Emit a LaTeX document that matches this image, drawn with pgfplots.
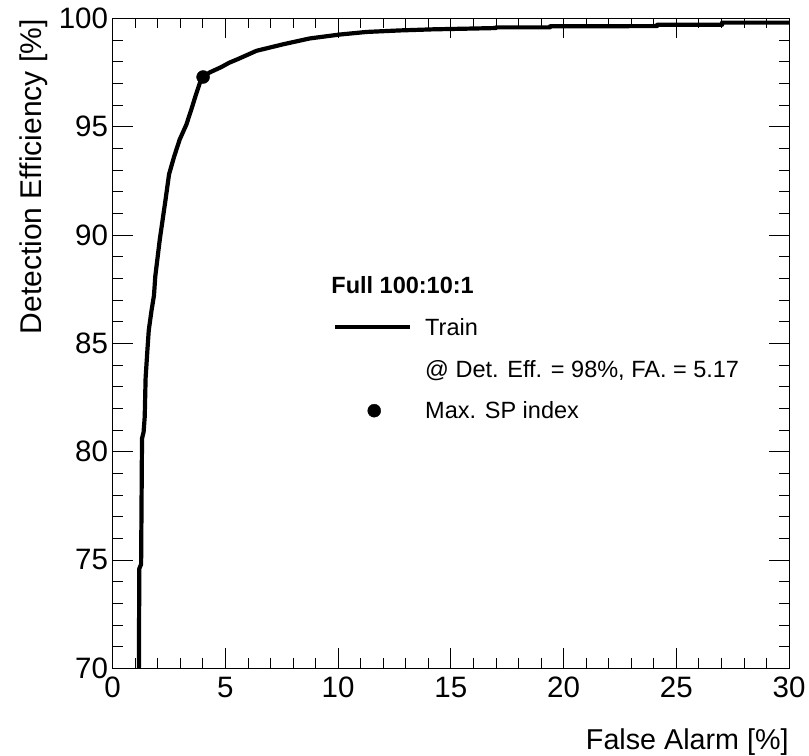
\documentclass[border=0pt]{standalone}
\usepackage{fontspec}
\setmainfont{Liberation Sans}
\usepackage{pgfplots}
\pgfplotsset{compat=1.18}
\newcommand\tickfont{\fontsize{29.5bp}{34bp}\selectfont}
\newcommand\xlabfont{\fontsize{28.7bp}{34bp}\selectfont}
\newcommand\ylabfont{\fontsize{30bp}{34bp}\selectfont}
\newcommand\legfont{\fontsize{23.5bp}{26bp}\selectfont}
\begin{document}
\begin{tikzpicture}
\useasboundingbox (0bp,0bp) rectangle (809bp,756bp);
\begin{axis}[
  at={(112.7bp,87.7bp)}, anchor=south west,
  scale only axis, width=676.3bp, height=650bp,
  xmin=0, xmax=30, ymin=70, ymax=100,
  xtick={0,5,...,30}, ytick={70,75,...,100},
  minor x tick num=4, minor y tick num=4,
  tick align=inside,
  major tick length=20bp, minor tick length=10bp,
  every tick/.style={black, line width=0.8bp},
  axis line style={line width=1bp},
  /pgf/number format/assume math mode=true,
  tick label style={font=\tickfont},
  yticklabel style={inner sep=0pt, xshift=-4.5bp},
  xticklabel style={inner sep=0pt, yshift=-8.5bp},
  xlabel={False Alarm [\%]},
  ylabel={Detection Efficiency [\%]},
  x label style={font=\xlabfont, at={(axis description cs:1.0045,-0.1242)}, anchor=base east},
  y label style={font=\ylabfont, at={(axis description cs:-0.106,1.0035)}, anchor=base east},
  legend cell align=left,
  legend style={draw=none, fill=none, font=\legfont,
    at={(axis description cs:0.3254,0.602)}, anchor=north west,
    inner sep=0pt, row sep=25.25bp, column sep=0bp,
    nodes={inner sep=0pt, text height=16.5bp, text depth=0bp}},
]
\addlegendimage{legend image code/.code={\path[draw=none,fill=none] (0bp,0bp) -- (90bp,0bp);
  \node[overlay, anchor=west, inner sep=0pt, font=\legfont\bfseries, draw=none, fill=none, text=black] at (-4bp,0bp) {Full 100:10:1};}}
\addlegendentry{\mbox{}}
\addlegendimage{legend image code/.code={\draw[black, line width=4.5bp] (0bp,0bp) -- (75bp,0bp); \path[draw=none,fill=none] (0bp,0bp) -- (90bp,0bp);}}
\addlegendentry{Train}
\addlegendimage{legend image code/.code={\path[draw=none,fill=none] (0bp,0bp) -- (90bp,0bp);}}
\addlegendentry{@ Det. Eff. = 98\%, FA. = 5.17}
\addlegendimage{legend image code/.code={\fill[black] (39bp,0bp) circle (6.5bp); \path[draw=none,fill=none] (0bp,0bp) -- (90bp,0bp);}}
\addlegendentry{Max. SP index}

\addplot[black, line width=4.2bp, line join=round, forget plot] coordinates {
(1.16,69.5) (1.18,74.6) (1.26,74.8) (1.30,80.6) (1.37,80.9) (1.42,81.6)
(1.46,83.4) (1.54,84.7) (1.60,85.6) (1.72,86.5) (1.83,87.2) (1.89,88.1)
(2.09,89.8) (2.34,91.6) (2.50,92.8) (2.72,93.6) (2.97,94.4) (3.27,95.1)
(3.49,95.8) (3.67,96.4) (3.86,97.0) (4.01,97.3) (4.30,97.5) (4.82,97.75)
(5.17,97.95) (5.56,98.12) (6.38,98.5) (7.56,98.8) (8.74,99.07) (10.07,99.25)
(11.26,99.37) (12.74,99.44) (14.2,99.49) (16.1,99.53) (17.0,99.55)
(17.0,99.58) (19.4,99.58) (19.4,99.63) (24.15,99.64) (24.15,99.70)
(27.03,99.70) (27.03,99.80) (30.5,99.80)
};
\addplot[only marks, mark=*, mark size=6.5bp, black, forget plot] coordinates {(4.01,97.29)};
\end{axis}
\end{tikzpicture}
\end{document}
